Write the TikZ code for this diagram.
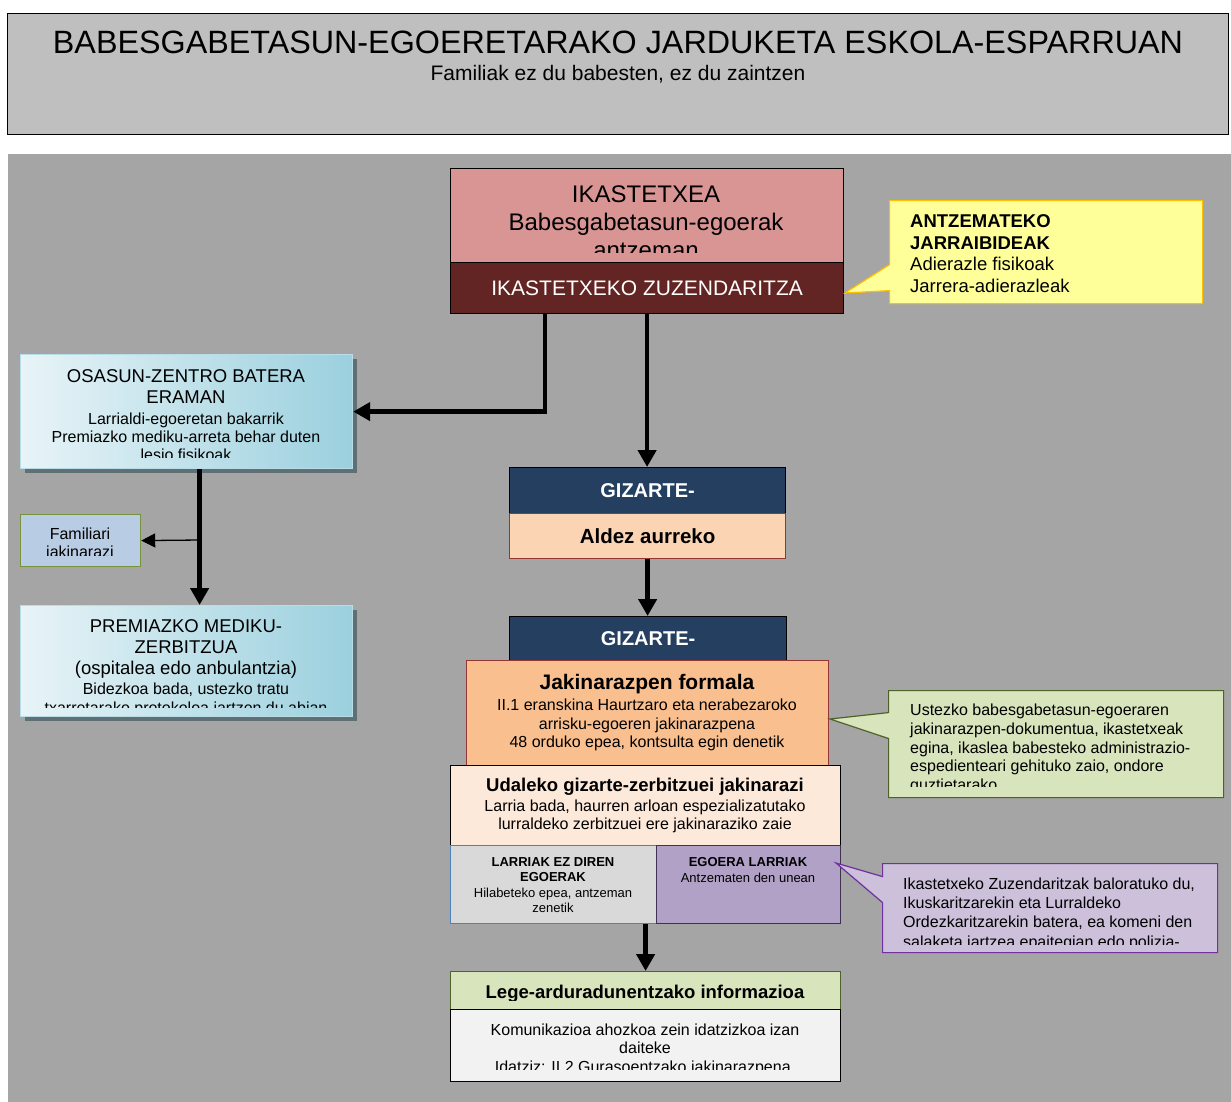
\documentclass[tikz,border=0pt]{standalone}
\usepackage{fontspec}
\setmainfont{Liberation Sans}
\usetikzlibrary{arrows.meta,shapes.callouts,shadows}

\definecolor{bggray}{HTML}{A5A5A5}
\definecolor{titlegray}{HTML}{BFBFBF}
\definecolor{ikfill}{HTML}{D99594}
\definecolor{zuzfill}{HTML}{632523}
\definecolor{yelfill}{HTML}{FFFF99}
\definecolor{yelbd}{HTML}{FFC000}
\definecolor{bluelt}{HTML}{E8F4F7}
\definecolor{bluedk}{HTML}{9BD0DE}
\definecolor{bluebd}{HTML}{B6DDE8}
\definecolor{shadowc}{HTML}{5F6F74}
\definecolor{famfill}{HTML}{B8CCE4}
\definecolor{fambd}{HTML}{77933C}
\definecolor{navyfill}{HTML}{243F60}
\definecolor{aldfill}{HTML}{FBD4B4}
\definecolor{redbd}{HTML}{943634}
\definecolor{jakfill}{HTML}{FABF8F}
\definecolor{udfill}{HTML}{FDE9D9}
\definecolor{lgray}{HTML}{D9D9D9}
\definecolor{blbd}{HTML}{4F81BD}
\definecolor{egfill}{HTML}{B2A1C7}
\definecolor{egbd}{HTML}{3F3151}
\definecolor{legfill}{HTML}{D7E4BC}
\definecolor{legbd}{HTML}{4F6228}
\definecolor{komfill}{HTML}{F2F2F2}
\definecolor{lilfill}{HTML}{CCC0DA}
\definecolor{lilbd}{HTML}{7030A0}

\newcommand\headsize{\fontsize{18.5}{21}\selectfont}

\begin{document}
\begin{tikzpicture}[x=1pt,y=-1pt,
  box/.style={draw,rectangle,anchor=north west,inner sep=0pt,line width=1.2pt},
  medbox/.style={box,draw=bluebd,left color=bluelt,right color=bluedk,
    drop shadow={shadow xshift=4pt,shadow yshift=-4pt,fill=shadowc,opacity=1}},
  note/.style={rectangle callout,anchor=north west,inner sep=0pt,line width=1.2pt,
    callout pointer width=26pt},
  txt/.style={inner sep=0pt,align=center},
  fat/.style={line width=4.5pt,-{Triangle[length=17pt,width=18pt]}},
  slim/.style={line width=1.3pt,-{Triangle[length=14pt,width=14pt]}}]

\useasboundingbox (0,0) rectangle (1231,1101);
\fill[white] (0,0) rectangle (1231,1101);

\node[box,fill=titlegray,minimum width=1221pt,minimum height=121pt] (title) at (7,13) {};
\node[txt,font=\fontsize{32.3}{38}\selectfont] (t_title) at (618,42) {BABESGABETASUN-EGOERETARAKO JARDUKETA ESKOLA-ESPARRUAN};
\node[txt,font=\fontsize{21}{25}\selectfont] (t_sub) at (618,74) {Familiak ez du babesten, ez du zaintzen};
\node[box,draw=none,fill=bggray,minimum width=1224pt,minimum height=948pt] (panel) at (7,153) {};

\node[box,fill=ikfill,minimum width=393pt,minimum height=94pt] (ikast) at (450,168) {};
\begin{scope}
  \clip (450,168) rectangle (843,252);
  \node[txt,font=\fontsize{24}{28}\selectfont] (t_ikast) at (646,222) {IKASTETXEA\\Babesgabetasun-egoerak\\antzeman};
\end{scope}
\node[box,fill=zuzfill,minimum width=393pt,minimum height=51pt] (zuzend) at (450,262) {};
\node[txt,text=white,font=\fontsize{21}{25}\selectfont] (t_zuzend) at (zuzend.center) {IKASTETXEKO ZUZENDARITZA};

\coordinate (tipA) at (845,293);
\node[note,fill=yelfill,draw=yelbd,minimum width=313pt,minimum height=103pt,callout absolute pointer={(tipA)}] (hint) at (889,200) {};
\node[txt,align=left,anchor=west,font=\fontsize{18.5}{21.7}\selectfont] (t_hint) at (910,253.5) {\textbf{ANTZEMATEKO}\\\textbf{JARRAIBIDEAK}\\Adierazle fisikoak\\Jarrera-adierazleak};

\node[medbox,minimum width=332pt,minimum height=114pt] (osasun) at (20,354) {};
\begin{scope}
  \clip (20,354) rectangle (352,457);
  \node[txt,font=\fontsize{16}{18}\selectfont] (t_osasun) at (186,415) {{\headsize OSASUN-ZENTRO BATERA}\\[3pt]{\headsize ERAMAN}\\[3pt]Larrialdi-egoeretan bakarrik\\Premiazko mediku-arreta behar duten\\lesio fisikoak};
\end{scope}

\node[box,fill=famfill,draw=fambd,minimum width=120pt,minimum height=52pt] (famil) at (20,514) {};
\begin{scope}
  \clip (20,514) rectangle (140,555);
  \node[txt,font=\fontsize{16}{18}\selectfont] (t_famil) at (80,544) {Familiari\\jakinarazi};
\end{scope}

\node[medbox,minimum width=332pt,minimum height=111pt] (premia) at (20,605) {};
\begin{scope}
  \clip (20,605) rectangle (352,707);
  \node[txt,font=\fontsize{16}{19}\selectfont] (t_premia) at (186,668) {{\headsize PREMIAZKO MEDIKU-}\\[2pt]{\headsize ZERBITZUA}\\[2pt]{\headsize (ospitalea edo anbulantzia)}\\[1pt]Bidezkoa bada, ustezko tratu\\txarretarako protokoloa jartzen du abian};
\end{scope}

\node[box,fill=navyfill,minimum width=276pt,minimum height=46pt] (giz1) at (509,467) {};
\node[txt,text=white,font=\bfseries\fontsize{20}{24}\selectfont] (t_giz1) at (giz1.center) {GIZARTE-};
\node[box,fill=aldfill,draw=redbd,minimum width=276pt,minimum height=45pt] (aldez) at (509,513) {};
\node[txt,font=\bfseries\fontsize{20.5}{24}\selectfont] (t_aldez) at (aldez.center) {Aldez aurreko};

\node[box,fill=navyfill,minimum width=277pt,minimum height=44pt] (giz2) at (509,616) {};
\node[txt,text=white,font=\bfseries\fontsize{20}{24}\selectfont] (t_giz2) at (giz2.center) {GIZARTE-};
\node[box,fill=jakfill,draw=redbd,minimum width=362pt,minimum height=105pt] (jakin) at (466,660) {};
\node[txt,font=\fontsize{16}{18.5}\selectfont] (t_jakin) at (647,713) {{\bfseries\fontsize{21}{25}\selectfont Jakinarazpen formala}\\[2.5pt]II.1 eranskina Haurtzaro eta nerabezaroko\\arrisku-egoeren jakinarazpena\\48 orduko epea, kontsulta egin denetik};
\node[box,fill=udfill,minimum width=390pt,minimum height=80pt] (udal) at (450,765) {};
\node[txt,font=\fontsize{16}{18}\selectfont] (t_udal) at (645,805) {{\bfseries\headsize Udaleko gizarte-zerbitzuei jakinarazi}\\[2pt]Larria bada, haurren arloan espezializatutako\\lurraldeko zerbitzuei ere jakinaraziko zaie};

\node[box,fill=lgray,draw=blbd,minimum width=206pt,minimum height=78pt] (larriak) at (450,845) {};
\node[txt,font=\fontsize{13}{15.3}\selectfont] (t_larriak) at (553,885) {\textbf{LARRIAK EZ DIREN}\\\textbf{EGOERAK}\\Hilabeteko epea, antzeman\\zenetik};
\node[box,fill=egfill,draw=egbd,minimum width=184pt,minimum height=78pt] (egoera) at (656,845) {};
\node[txt,font=\fontsize{13}{15.5}\selectfont] (t_egoera) at (748,870) {\textbf{EGOERA LARRIAK}\\Antzematen den unean};

\node[box,fill=legfill,draw=legbd,minimum width=390pt,minimum height=38pt] (lege) at (450,971) {};
\begin{scope}
  \clip (450,971) rectangle (840,1000.5);
  \node[txt,font=\bfseries\headsize] (t_lege) at (645,993.5) {Lege-arduradunentzako informazioa};
\end{scope}
\node[box,fill=komfill,minimum width=390pt,minimum height=72pt] (komun) at (450,1009) {};
\begin{scope}
  \clip (450,1009) rectangle (840,1069);
  \node[txt,font=\fontsize{16}{18.5}\selectfont] (t_komun) at (645,1049.5) {Komunikazioa ahozkoa zein idatzizkoa izan\\daiteke\\Idatziz: II.2 Gurasoentzako jakinarazpena.};
\end{scope}

\coordinate (tipB) at (830,719);
\node[note,fill=legfill,draw=legbd,minimum width=335pt,minimum height=107pt,callout absolute pointer={(tipB)}] (legal) at (888,690) {};
\begin{scope}
  \clip (888,690) rectangle (1223,786.5);
  \node[txt,align=left,anchor=west,font=\fontsize{16}{18.6}\selectfont] (t_legal) at (910,749) {Ustezko babesgabetasun-egoeraren\\jakinarazpen-dokumentua, ikastetxeak\\egina, ikaslea babesteko administrazio-\\espedienteari gehituko zaio, ondore\\guztietarako};
\end{scope}

\coordinate (tipC) at (836,863);
\node[note,fill=lilfill,draw=lilbd,minimum width=335pt,minimum height=89pt,callout absolute pointer={(tipC)}] (report) at (882,863) {};
\begin{scope}
  \clip (882,863) rectangle (1217,944);
  \node[txt,align=left,anchor=west,font=\fontsize{16}{19.3}\selectfont] (t_report) at (903,914) {Ikastetxeko Zuzendaritzak baloratuko du,\\Ikuskaritzarekin eta Lurraldeko\\Ordezkaritzarekin batera, ea komeni den\\salaketa jartzea epaitegian edo polizia-};
\end{scope}

\draw[fat] ([xshift=95pt]zuzend.south west) |- (osasun.east);
\draw[fat] (zuzend.south) -- (zuzend.south |- giz1.north);
\draw[fat] ([xshift=13pt]osasun.south) -- ([xshift=13pt]premia.north);
\coordinate (fork) at (199,540);
\draw[slim] (fork) -- (famil.east);
\draw[fat] (aldez.south) -- (aldez.south |- giz2.north);
\draw[fat] (lege.north |- larriak.south) -- (lege.north);

\end{tikzpicture}
\end{document}
